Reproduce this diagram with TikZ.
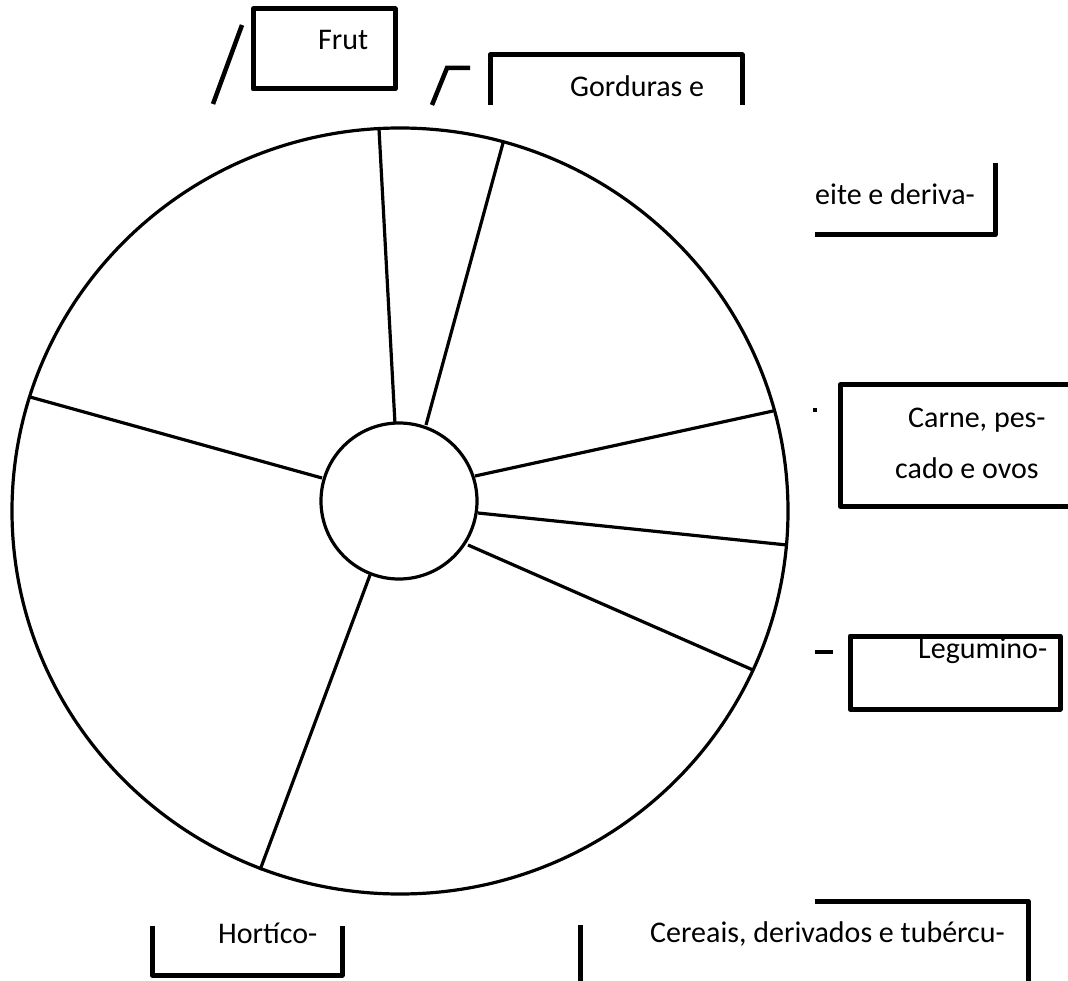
\documentclass[tikz,border=0pt]{standalone}
\usepackage{fontspec}
\setmainfont{Carlito}
\begin{document}
\begin{tikzpicture}[x=1pt,y=-1pt,
  rim/.style={line width=3.2pt},
  spoke/.style={line width=3.2pt},
  frame/.style={line width=5pt, line join=round},
  tick/.style={line width=4.5pt},
  lbl/.style={anchor=base west, inner sep=0pt, font=\fontsize{30}{36}\selectfont}]
\useasboundingbox (0,0) rectangle (1068,981);
\fill[white] (0,0) rectangle (1068,981);

% wheel: outer rim and hub
\draw[rim] (400,511) ellipse [x radius=388, y radius=383];
\draw[rim] (399,501) circle [radius=78];

% spokes from hub to rim
\coordinate (h1) at (395,424);  \coordinate (r1) at (379,129);
\coordinate (h2) at (426,425);  \coordinate (r2) at (503,143);
\coordinate (h3) at (475,476);  \coordinate (r3) at (773,411);
\coordinate (h4) at (478,513);  \coordinate (r4) at (787,545);
\coordinate (h5) at (468,545);  \coordinate (r5) at (753,670);
\coordinate (h6) at (370,575);  \coordinate (r6) at (260,870);
\coordinate (h7) at (322,478);  \coordinate (r7) at (30,397);
\foreach \i in {1,...,7} \draw[spoke] (h\i) -- (r\i);

% label frames and marks
\draw[frame] (253,9) rectangle (395,89);
\draw[tick] (242,25) -- (213,104);
\draw[tick] (432,105) -- (447,68) -- (470,68);
\draw[frame] (490,105) -- (490,55) -- (742,55) -- (742,105);
\draw[frame] (995,163) -- (995,235) -- (815,235);
\draw[frame] (1070,385) -- (840,385) -- (840,506) -- (1070,506);
\fill (813,408) rectangle (817,412);
\draw[frame] (850,636) rectangle (1060,709);
\draw[tick] (815,652) -- (833,652);
\draw[frame] (152,926) -- (152,975) -- (342,975) -- (342,926);
\draw[frame] (580,925) -- (580,985);
\draw[frame] (815,901) -- (1028,901) -- (1028,985);

% labels
\node[lbl] (frut) at (318,50) {Frut};
\node[lbl] (gord) at (570,97) {Gorduras e};
\node[lbl] (leite) at (815,205) {eite e deriva-};
\node[lbl] (carne1) at (908,427) {Carne, pes-};
\node[lbl] (carne2) at (895,478) {cado e ovos};
\node[lbl] (legum) at (918,658) {Legumino-};
\node[lbl] (hort) at (218,943) {Hortíco-};
\node[lbl] (cere) at (650,942) {Cereais, derivados e tubércu-};
\end{tikzpicture}
\end{document}
